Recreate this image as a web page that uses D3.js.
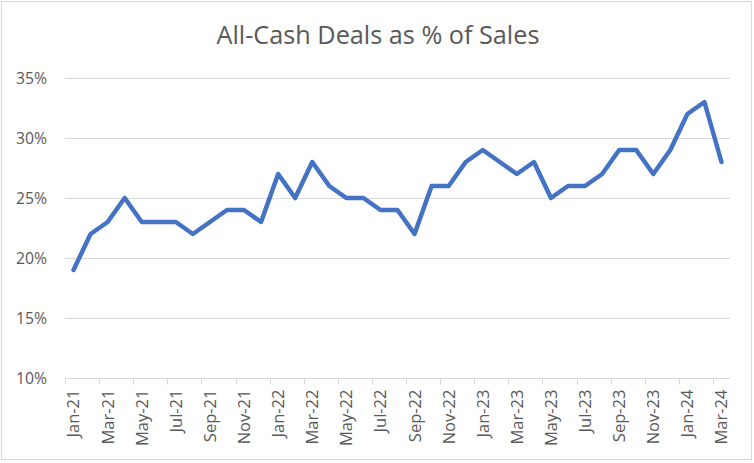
<!DOCTYPE html>
<html><head><meta charset="utf-8">
<script src="https://cdn.jsdelivr.net/npm/d3@7"></script>
<style>body{margin:0;background:#fff;} svg{display:block;}</style>
</head><body>
<svg id="chart" width="754" height="463"></svg>
<script>
const months = ["Jan-21","Feb-21","Mar-21","Apr-21","May-21","Jun-21","Jul-21","Aug-21","Sep-21","Oct-21","Nov-21","Dec-21",
"Jan-22","Feb-22","Mar-22","Apr-22","May-22","Jun-22","Jul-22","Aug-22","Sep-22","Oct-22","Nov-22","Dec-22",
"Jan-23","Feb-23","Mar-23","Apr-23","May-23","Jun-23","Jul-23","Aug-23","Sep-23","Oct-23","Nov-23","Dec-23",
"Jan-24","Feb-24","Mar-24"];
const cashShare = [19,22,23,25,23,23,23,22,23,24,24,23,
27,25,28,26,25,25,24,24,22,26,26,28,
29,28,27,28,25,26,26,27,29,29,27,29,
32,33,28];
const yTicks = [10,15,20,25,30,35];
const title = "All-Cash Deals as % of Sales";

(function(){
const svg = d3.select("#chart");
const font = "'Open Sans', 'Noto Sans', sans-serif";
const textColor = "#595959";

function fitSize(str, base, target){
  const t = svg.append("text").attr("font-family",font).attr("font-size",base).text(str);
  const w = t.node().getComputedTextLength();
  t.remove();
  return base * target / w;
}
const titleSize = fitSize(title, 20, 323);
const xSize = fitSize("Jan-21", 13, 48);
const ySize = fitSize("10%", 14, 31);

svg.append("rect").attr("x",1.5).attr("y",1.5).attr("width",750).attr("height",458)
  .attr("fill","#fff").attr("stroke","#d9d9d9");

const pL = 65, pR = 730, pT = 78, pB = 378;
const x = d3.scaleBand().domain(months).range([pL,pR]).padding(0);
const y = d3.scaleLinear().domain([10,35]).range([pB,pT]);

svg.append("text").attr("x",378).attr("y",44).attr("text-anchor","middle")
  .attr("font-family",font).attr("font-size",titleSize).attr("fill",textColor).text(title);

svg.append("g").selectAll("line").data(yTicks.slice(1)).join("line")
  .attr("x1",pL).attr("x2",pR).attr("y1",d=>y(d)+0.5).attr("y2",d=>y(d)+0.5)
  .attr("stroke","#d9d9d9").attr("stroke-width",1);

const yAxis = d3.axisLeft(y).tickValues(yTicks).tickFormat(d=>d+"%").tickSize(0).tickPadding(18);
const gy = svg.append("g").attr("transform",`translate(${pL},0)`).call(yAxis);
gy.select(".domain").remove();
gy.selectAll("text").attr("font-family",font).attr("font-size",ySize).attr("fill",textColor);

const gx = svg.append("g").attr("transform",`translate(0,${pB+0.5})`);
gx.append("line").attr("x1",pL).attr("x2",pR).attr("stroke","#d9d9d9");
const tickIdx = months.map((m,i)=>i).filter(i=>i%2===0);
gx.selectAll("line.tk").data(tickIdx).join("line").attr("class","tk")
  .attr("x1",i=>Math.round(x(months[i]))+0.5).attr("x2",i=>Math.round(x(months[i]))+0.5)
  .attr("y1",0).attr("y2",6).attr("stroke","#d9d9d9");
gx.selectAll("text").data(tickIdx).join("text")
  .attr("transform",i=>`translate(${x(months[i])+x.bandwidth()/2},11) rotate(-90)`)
  .attr("dy","0.36em")
  .attr("text-anchor","end").attr("font-family",font).attr("font-size",xSize).attr("fill",textColor)
  .text(i=>months[i]);

const line = d3.line().x((d,i)=>x(months[i])+x.bandwidth()/2).y(d=>y(d));
svg.append("path").datum(cashShare).attr("d",line).attr("fill","none")
  .attr("stroke","#4472C4").attr("stroke-width",4.5).attr("stroke-linejoin","round").attr("stroke-linecap","round");
})();
</script>
</body></html>
